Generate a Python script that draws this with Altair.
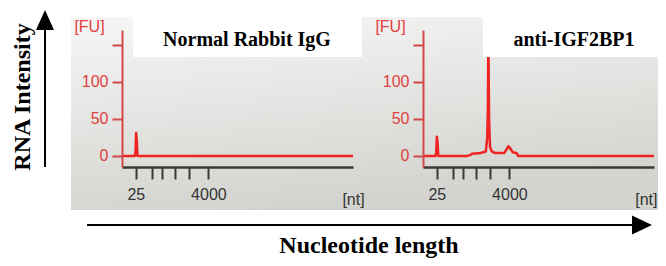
import altair as alt
import pandas as pd

# ---------------- data ----------------
# migration time (s) and fluorescence (FU) of each electropherogram
time_ctrl = [19.0, 21.8, 21.95, 22.05, 22.2, 22.35, 69.0]
fu_ctrl = [0, 0, 8, 31, 20, 0, 0]

time_ip = [19.0, 21.7, 21.85, 22.0, 22.15, 22.3, 28.6, 29.2, 29.6, 31.5, 32.6,
           32.9, 33.05, 33.15, 33.3, 33.5, 33.9, 34.5, 36.6, 37.1, 37.5, 37.9,
           38.4, 39.2, 39.6, 69.0]
fu_ip = [0, 0, 3, 26, 18, 0, 0, 1, 3, 4, 6,
         25, 66, 165, 50, 12, 6, 4, 4, 9, 13, 10,
         5, 4, 0, 0]

# ladder (nt) and where its ticks sit on the time axis
ladder_nt = ["25", "200", "500", "1000", "2000", "4000"]
ladder_time = [22.0, 25.4, 27.7, 30.4, 33.4, 37.7]
shown_nt = ["25", "4000"]

y_ticks = [0, 50, 100, 150]
panel_titles = ["Normal Rabbit IgG", "anti-IGF2BP1"]
outer_y_title = ["RNA Intensity"]
outer_x_title = ["Nucleotide length"]
x_unit = "[nt]"
y_unit = "[FU]"

# ---------------- styling ----------------
W, H = 231, 137
GAP = 70
SERIF = "Liberation Serif"
SANS = "Liberation Sans"
RED_LINE = "#ee2424"
RED_AX = "#d24848"
RED_TXT = "#e0403e"
DARK = "#3a3a3a"

parts = [f"datum.value == {t} ? '{n}'" for t, n in zip(ladder_time, ladder_nt) if n in shown_nt]
x_label_expr = " : ".join(parts) + " : ''"

df_ctrl = pd.DataFrame({"t": time_ctrl, "fu": fu_ctrl})
df_ip = pd.DataFrame({"t": time_ip, "fu": fu_ip})


def one(label=""):
    return alt.Data(values=[{"label": label}])


def x_axis(title_x, title_align):
    return alt.Axis(values=ladder_time, labelExpr=x_label_expr, title=x_unit,
                    titleX=title_x, titleY=32, titleAlign=title_align,
                    titleBaseline="middle", titleFont=SANS, titleFontSize=16,
                    titleFontWeight="normal", titleColor="#333333",
                    domainColor=DARK, domainWidth=2.5, tickColor=DARK, tickWidth=2,
                    tickSize=12, labelFont=SANS, labelFontSize=16, labelColor="#333333",
                    labelPadding=7, labelAngle=0, grid=False, zindex=1,
                    labelFlush=False, labelOverlap=False)


y_axis = alt.Axis(values=y_ticks, labelExpr="datum.value <= 100 ? datum.label : ''",
                  title=y_unit, titleAngle=0, titleX=-33, titleY=-4, titleAlign="center",
                  titleBaseline="middle", titleColor=RED_TXT, titleFont=SANS,
                  titleFontSize=16, titleFontWeight="normal", domainColor=RED_AX,
                  domainWidth=2, tickColor=RED_AX, tickWidth=2, tickSize=10,
                  labelColor=RED_TXT, labelFont=SANS, labelFontSize=16, labelPadding=4,
                  grid=False, zindex=1, labelFlush=False, labelOverlap=False)

x_scale = alt.Scale(domain=[19, 69], nice=False, zero=False)
y_scale = alt.Scale(domain=[-15, 170], nice=False, zero=False)


def trace(df, ax):
    return alt.Chart(df).mark_line(color=RED_LINE, strokeWidth=2.5, strokeJoin="round").encode(
        x=alt.X("t:Q", scale=x_scale, axis=ax),
        y=alt.Y("fu:Q", scale=y_scale, axis=y_axis),
    )


def rect(x, x2, y, y2, fill):
    return alt.Chart(one()).mark_rect(fill=fill, strokeWidth=0).encode(
        x=alt.value(x), x2=alt.value(x2), y=alt.value(y), y2=alt.value(y2))


def title_text(label, x, y):
    return alt.Chart(one(label)).mark_text(
        font=SERIF, fontWeight="bold", fontSize=20, align="center",
        baseline="alphabetic", color="black").encode(
        x=alt.value(x), y=alt.value(y), text="label:N")


gradient = {"gradient": "linear", "x1": 0, "y1": 0, "x2": 0.3, "y2": 1,
            "stops": [{"offset": 0, "color": "#f6f6f6"},
                      {"offset": 1, "color": "#d3d3cf"}]}

# left panel coordinates: plot origin sits at page (122, 30)
canvas = rect(-114, 536, -22, 228, "white")
backdrop = rect(-51, 536, -13, 180, gradient)
box_left = rect(11, 240, -22, 27, "white")
box_right = rect(60, 235, -22, 27, "white")

v_line = alt.Chart(one()).mark_rule(color="black", strokeWidth=2).encode(
    x=alt.value(-77), y=alt.value(-2), y2=alt.value(137))
v_head = alt.Chart(one()).mark_point(
    shape="M0,-1L0.9,1L-0.9,1Z", size=400, filled=True, fill="black",
    strokeWidth=0, opacity=1).encode(x=alt.value(-77), y=alt.value(-10))
v_text = alt.Chart(one(outer_y_title[0])).mark_text(
    font=SERIF, fontWeight="bold", fontSize=24, angle=270, align="center",
    baseline="middle", color="black").encode(
    x=alt.value(-99), y=alt.value(67), text="label:N")

h_line = alt.Chart(one()).mark_rule(color="black", strokeWidth=2).encode(
    y=alt.value(195), x=alt.value(-35), x2=alt.value(512))
h_head = alt.Chart(one()).mark_point(
    shape="M1,0L-1,-0.95L-1,0.95Z", size=400, filled=True, fill="black",
    strokeWidth=0, opacity=1).encode(x=alt.value(520), y=alt.value(195))
h_text = alt.Chart(one(outer_x_title[0])).mark_text(
    font=SERIF, fontWeight="bold", fontSize=24, align="center",
    baseline="alphabetic", color="black").encode(
    x=alt.value(247), y=alt.value(223), text="label:N")

left = alt.layer(
    canvas, backdrop, trace(df_ctrl, x_axis(231, "center")), box_left,
    title_text(panel_titles[0], 125, 16),
    v_line, v_head, v_text, h_line, h_head, h_text,
).properties(width=W, height=H)

right = alt.layer(
    trace(df_ip, x_axis(234, "right")), box_right,
    title_text(panel_titles[1], 151, 16),
).properties(width=W, height=H)

chart = alt.hconcat(left, right, spacing=GAP, bounds="flush", padding=0,
                    background="white").configure_view(strokeWidth=0)

chart.save("out.html", embed_options={"renderer": "svg", "actions": False})
